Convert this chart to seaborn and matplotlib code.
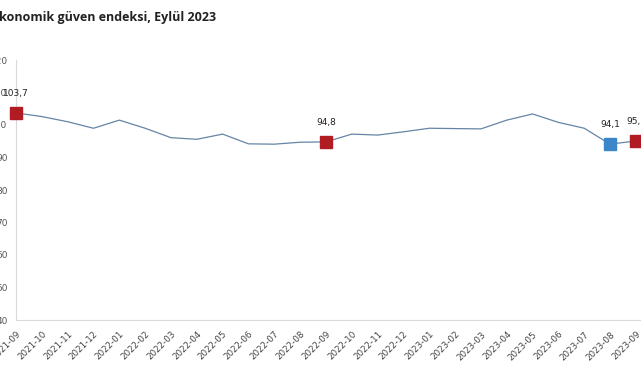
import numpy as np
import pandas as pd
import seaborn as sns
import matplotlib.pyplot as plt

# aylar ve endeks degerleri
months = ["2021-09", "2021-10", "2021-11", "2021-12", "2022-01", "2022-02", "2022-03",
          "2022-04", "2022-05", "2022-06", "2022-07", "2022-08", "2022-09", "2022-10",
          "2022-11", "2022-12", "2023-01", "2023-02", "2023-03", "2023-04", "2023-05",
          "2023-06", "2023-07", "2023-08", "2023-09"]
values = [103.7, 102.6, 101.0, 99.0, 101.5, 99.0, 96.1, 95.6, 97.2, 94.2, 94.1, 94.7,
          94.8, 97.2, 96.9, 97.9, 99.0, 98.9, 98.8, 101.5, 103.4, 100.8, 99.0, 94.1, 95.1]
highlight_idx = [0, 12, 24]
current_idx = [23]
yticks = [40, 50, 60, 70, 80, 90, 100, 110, 120]

df = pd.DataFrame({"pos": np.arange(len(months)), "month": months, "value": values})

sns.set_style("white")
plt.rcParams["font.family"] = ["DejaVu Sans"]

fig = plt.figure(figsize=(6.41, 3.80), dpi=100)
W, H = 641, 380
# eksen bilerek sag kenardan tasiyor (orijinal kirpilmis)
ax = fig.add_axes([16 / W, 60 / H, 25 * 25.83 / W, 260 / H])

sns.lineplot(data=df, x="pos", y="value", ax=ax, color="#6585A6", linewidth=0.9)

red = df.iloc[highlight_idx]
blue = df.iloc[current_idx]
ax.plot(red["pos"], red["value"], "s", color="#B01C22", markersize=8.5, zorder=5, clip_on=False)
ax.plot(blue["pos"], blue["value"], "s", color="#3A86C8", markersize=8.5, zorder=5, clip_on=False)

for i in highlight_idx + current_idx:
    lbl = f"{values[i]:.1f}".replace(".", ",")
    ax.annotate(lbl, (i, values[i]), xytext=(0, 14), textcoords="offset points",
                ha="center", va="center", fontsize=6.5, color="#222222", zorder=6)

ax.set_xlim(0, 25)
ax.set_ylim(40, 120)
ax.set_yticks(yticks)
ax.set_yticklabels([str(t) for t in yticks], fontsize=6.5, color="#555555")
ax.set_xticks(df["pos"])
ax.set_xticklabels(months, rotation=45, ha="right", va="top", rotation_mode="anchor",
                   fontsize=6.3, color="#444444")
ax.tick_params(axis="both", length=0)
ax.tick_params(axis="y", pad=6)
ax.tick_params(axis="x", pad=7)
ax.set_xlabel("")
ax.set_ylabel("")

for side in ["top", "right"]:
    ax.spines[side].set_visible(False)
for side in ["left", "bottom"]:
    ax.spines[side].set_color("#D9D9D9")
    ax.spines[side].set_linewidth(0.8)

fig.text(-8 / W, 1 - 18 / H, "Ekonomik güven endeksi, Eylül 2023", fontsize=9,
         fontweight="bold", family=["Open Sans", "DejaVu Sans"], color="#222222",
         ha="left", va="center")

fig.savefig("out.png", dpi=100)
